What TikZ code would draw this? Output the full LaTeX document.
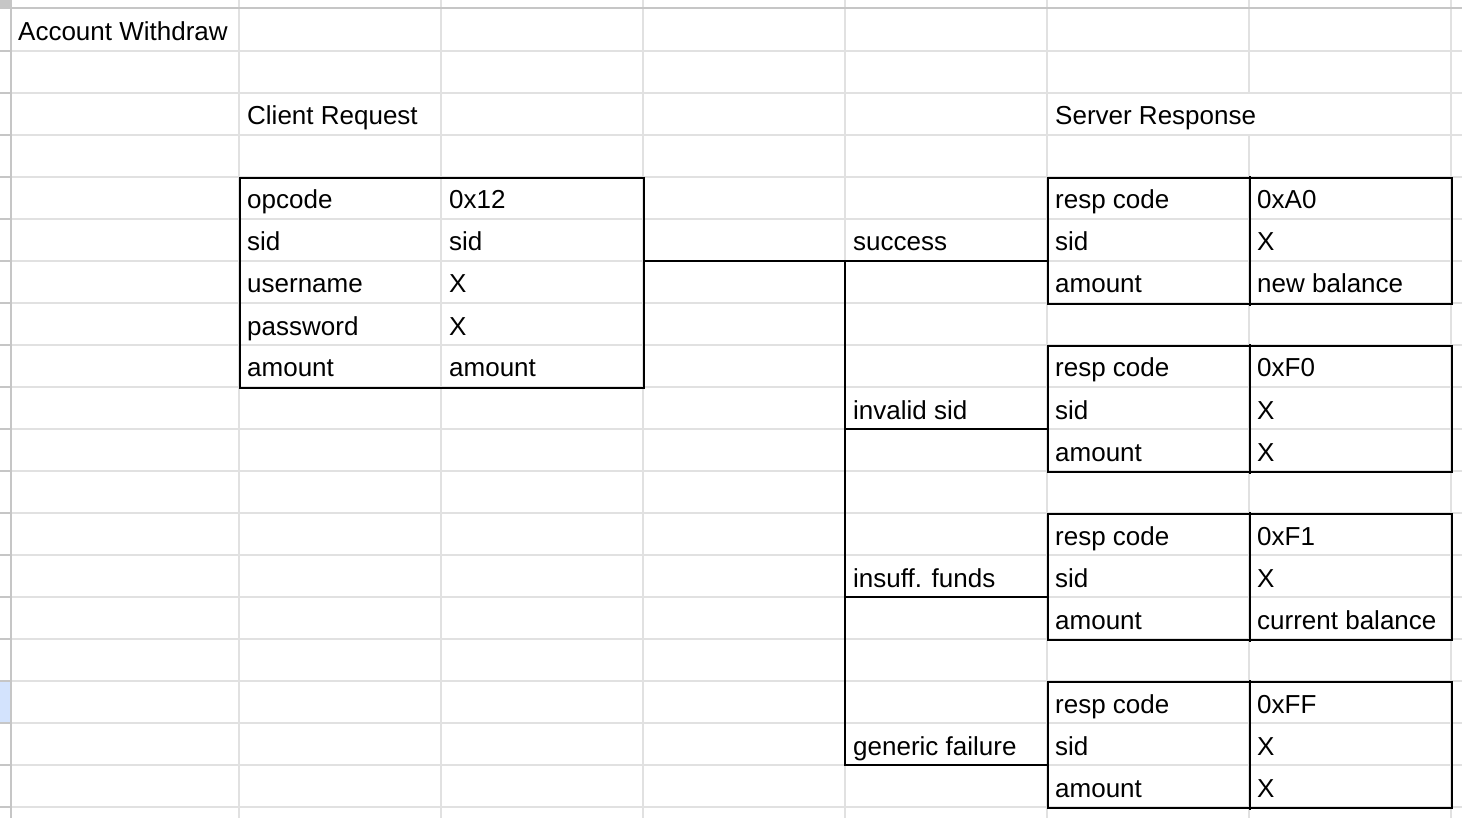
\documentclass[tikz,border=0pt]{standalone}
\usepackage{fontspec}
\setmainfont{Liberation Sans}
\definecolor{gridc}{HTML}{E1E1E1}
\definecolor{hdrc}{HTML}{C6C6C6}
\definecolor{selc}{HTML}{D3E3FD}
\tikzset{
  gridline/.style={draw=gridc, line width=2pt},
  hdrline/.style={draw=hdrc, line width=2pt},
  bd/.style={draw=black, line width=2.3pt, line cap=rect},
  txt/.style={anchor=base west, inner sep=0pt, font=\fontsize{26}{30}\selectfont},
  tbl/.style={draw=black, line width=2.3pt, anchor=north west, inner sep=0pt}
}
\begin{document}
\begin{tikzpicture}[x=1pt,y=-1pt]
\useasboundingbox (0,0) rectangle (1462,818);
\fill[white] (0,0) rectangle (1462,818);
% header strip
\fill[hdrc] (0,0) rectangle (10,8);
\fill[selc] (0,682) rectangle (10,722);
% grid
\foreach \r in {0,...,18} {
  \draw[gridline] (11,51+42*\r) -- (1462,51+42*\r);
  \draw[hdrline] (0,51+42*\r) -- (10,51+42*\r);
}
\foreach \x in {239,441,643,845,1047,1451} {
  \draw[gridline] (\x,0) -- (\x,818);
}
\draw[gridline] (1249,0) -- (1249,93);
\draw[gridline] (1249,135) -- (1249,818);
\draw[hdrline] (0,8.5) -- (1462,8.5);
\draw[hdrline] (10.5,0) -- (10.5,818);

% tables
\node[tbl, minimum width=404pt, minimum height=210pt] (req) at (239,177) {};
\node[tbl, minimum width=404pt, minimum height=126pt] (resp1) at (1047,177) {};
\node[tbl, minimum width=404pt, minimum height=126pt] (resp2) at (1047,345) {};
\node[tbl, minimum width=404pt, minimum height=126pt] (resp3) at (1047,513) {};
\node[tbl, minimum width=404pt, minimum height=126pt] (resp4) at (1047,681) {};
\foreach \n in {resp1,resp2,resp3,resp4} {
  \draw[bd] (\n.north) -- (\n.south);
}

% connectors
\coordinate (j0) at (845,261);
\coordinate (j1) at (845,429);
\coordinate (j2) at (845,597);
\coordinate (j3) at (845,765);
\draw[bd] (req.east |- j0) -- (resp1.west |- j0);
\draw[bd] (j0) -- (j3);
\draw[bd] (j1) -- (resp2.west |- j1);
\draw[bd] (j2) -- (resp3.west |- j2);
\draw[bd] (j3) -- (resp4.west |- j3);

% texts
\node[txt] (title) at (18,41) {Account Withdraw};
\node[txt] (creq) at (247,125) {Client Request};
\node[txt] (sresp) at (1055,125) {Server Response};

\node[txt] (k1) at (247,209) {opcode};
\node[txt] (v1) at (449,209) {0x12};
\node[txt] (k2) at (247,251) {sid};
\node[txt] (v2) at (449,251) {sid};
\node[txt] (k3) at (247,293) {username};
\node[txt] (v3) at (449,293) {X};
\node[txt] (k4) at (247,335) {password};
\node[txt] (v4) at (449,335) {X};
\node[txt] (k5) at (247,377) {amount};
\node[txt] (v5) at (449,377) {amount};

\node[txt] (o1) at (853,251) {success};
\node[txt] (o2) at (853,419) {invalid sid};
\node[txt] (o3) at (853,587) {insuff. funds};
\node[txt] (o4) at (853,755) {generic failure};

\node[txt] (a1) at (1055,209) {resp code};
\node[txt] (b1) at (1257,209) {0xA0};
\node[txt] (a2) at (1055,251) {sid};
\node[txt] (b2) at (1257,251) {X};
\node[txt] (a3) at (1055,293) {amount};
\node[txt] (b3) at (1257,293) {new balance};

\node[txt] (c1) at (1055,377) {resp code};
\node[txt] (d1) at (1257,377) {0xF0};
\node[txt] (c2) at (1055,419) {sid};
\node[txt] (d2) at (1257,419) {X};
\node[txt] (c3) at (1055,461) {amount};
\node[txt] (d3) at (1257,461) {X};

\node[txt] (e1) at (1055,545) {resp code};
\node[txt] (f1) at (1257,545) {0xF1};
\node[txt] (e2) at (1055,587) {sid};
\node[txt] (f2) at (1257,587) {X};
\node[txt] (e3) at (1055,629) {amount};
\node[txt] (f3) at (1257,629) {current balance};

\node[txt] (g1) at (1055,713) {resp code};
\node[txt] (h1) at (1257,713) {0xFF};
\node[txt] (g2) at (1055,755) {sid};
\node[txt] (h2) at (1257,755) {X};
\node[txt] (g3) at (1055,797) {amount};
\node[txt] (h3) at (1257,797) {X};
\end{tikzpicture}
\end{document}
